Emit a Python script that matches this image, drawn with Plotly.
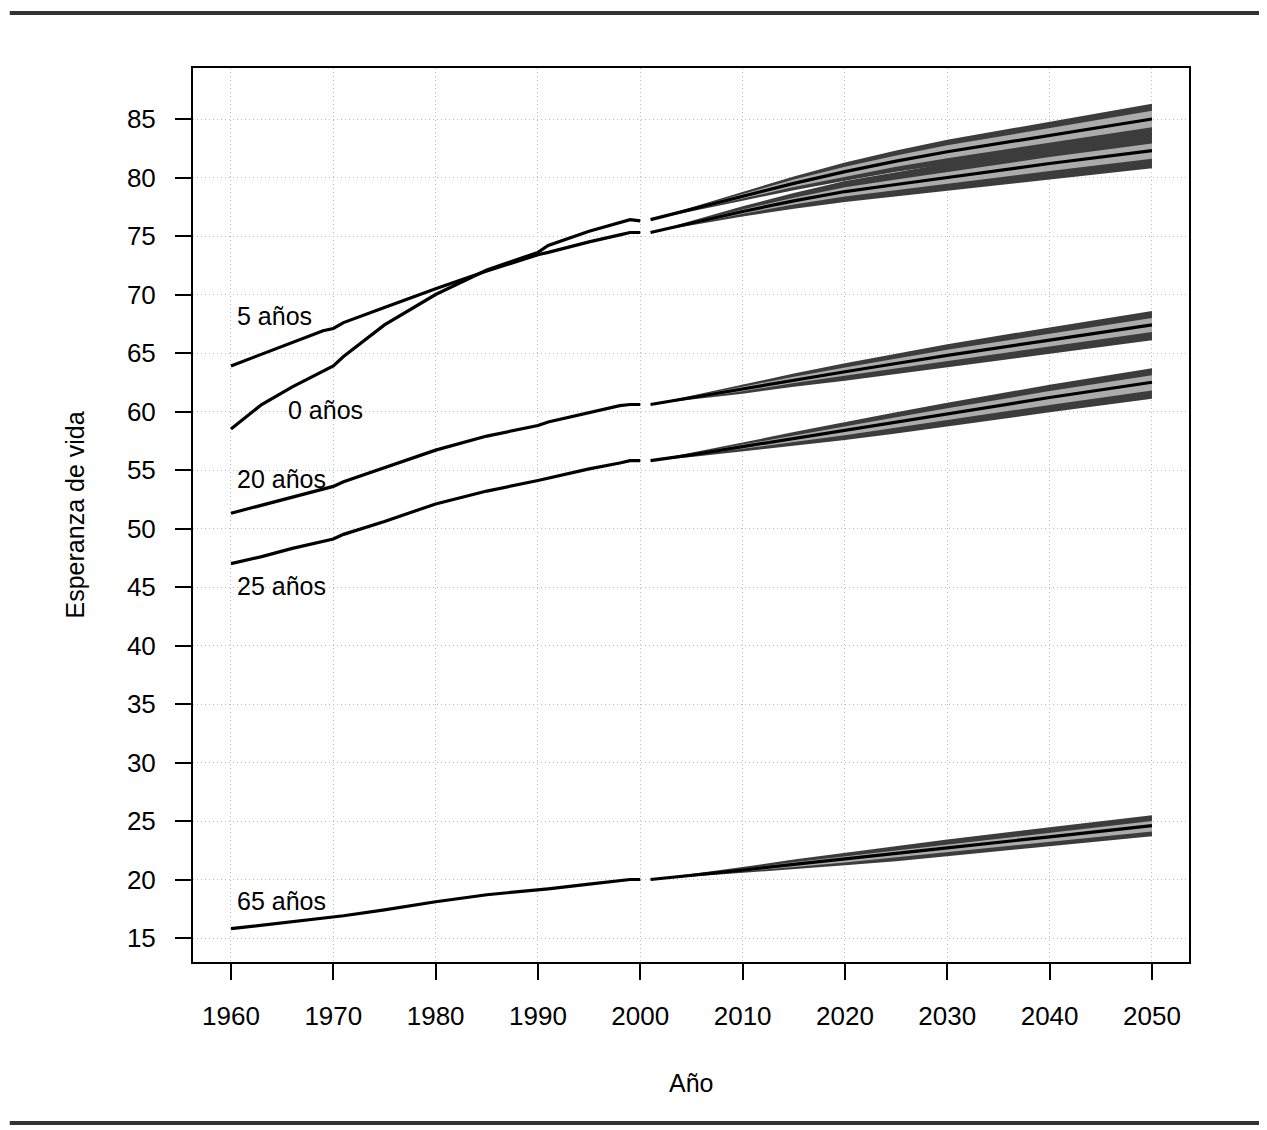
import plotly.graph_objects as go

# ---------------- data ----------------
hist_years = [1960, 1963, 1966, 1969, 1970, 1971, 1975, 1980, 1985, 1990, 1991, 1995, 1998, 1999, 2000]
hist_e0  = [58.5, 60.6, 62.1, 63.5, 63.9, 64.7, 67.4, 70.0, 72.1, 73.6, 74.2, 75.4, 76.2, 76.4, 76.3]
hist_e5  = [63.9, 64.9, 65.9, 66.9, 67.1, 67.6, 68.9, 70.5, 72.0, 73.4, 73.6, 74.5, 75.1, 75.3, 75.3]
hist_e20 = [51.3, 52.0, 52.7, 53.4, 53.6, 54.0, 55.2, 56.7, 57.9, 58.8, 59.1, 59.9, 60.5, 60.6, 60.6]
hist_e25 = [47.0, 47.6, 48.3, 48.9, 49.1, 49.5, 50.6, 52.1, 53.2, 54.1, 54.3, 55.1, 55.6, 55.8, 55.8]
hist_e65 = [15.8, 16.1, 16.4, 16.7, 16.8, 16.9, 17.4, 18.1, 18.7, 19.1, 19.2, 19.6, 19.9, 20.0, 20.0]

proj_years = [2001, 2005, 2010, 2015, 2020, 2025, 2030, 2040, 2050]

e0_med  = [76.4, 77.3, 78.4, 79.5, 80.5, 81.4, 82.2, 83.6, 85.0]
e0_hi80 = [76.4, 77.39, 78.6, 79.82, 80.92, 81.89, 82.75, 84.24, 85.7]
e0_lo80 = [76.4, 77.21, 78.2, 79.19, 80.08, 80.91, 81.65, 82.96, 84.3]
e0_hi95 = [76.4, 77.47, 78.78, 80.09, 81.28, 82.31, 83.23, 84.78, 86.3]
e0_lo95 = [76.4, 77.13, 78.02, 78.92, 79.72, 80.49, 81.17, 82.42, 83.7]

e5_med  = [75.3, 76.1, 77.1, 78.0, 78.8, 79.4, 80.0, 81.2, 82.3]
e5_hi80 = [75.3, 76.18, 77.27, 78.27, 79.16, 79.82, 80.47, 81.75, 82.9]
e5_lo80 = [75.3, 76.01, 76.9, 77.69, 78.38, 78.91, 79.45, 80.56, 81.6]
e5_hi95 = [75.3, 76.3, 77.54, 78.68, 79.7, 80.45, 81.19, 82.57, 83.8]
e5_lo95 = [75.3, 75.91, 76.67, 77.33, 77.9, 78.35, 78.82, 79.84, 80.8]

e20_med  = [60.6, 61.2, 61.9, 62.7, 63.4, 64.1, 64.8, 66.1, 67.4]
e20_hi80 = [60.6, 61.28, 62.07, 62.97, 63.76, 64.52, 65.27, 66.65, 68.0]
e20_lo80 = [60.6, 61.12, 61.73, 62.43, 63.04, 63.68, 64.33, 65.55, 66.8]
e20_hi95 = [60.6, 61.36, 62.25, 63.24, 64.12, 64.94, 65.75, 67.19, 68.6]
e20_lo95 = [60.6, 61.03, 61.52, 62.12, 62.62, 63.19, 63.77, 64.92, 66.1]

e25_med  = [55.8, 56.3, 57.0, 57.7, 58.4, 59.1, 59.8, 61.2, 62.5]
e25_hi80 = [55.8, 56.38, 57.17, 57.97, 58.76, 59.52, 60.27, 61.75, 63.1]
e25_lo80 = [55.8, 56.21, 56.8, 57.39, 57.98, 58.61, 59.25, 60.56, 61.8]
e25_hi95 = [55.8, 56.46, 57.35, 58.24, 59.12, 59.94, 60.75, 62.29, 63.7]
e25_lo95 = [55.8, 56.12, 56.59, 57.07, 57.56, 58.12, 58.69, 59.93, 61.1]

e65_med  = [20.0, 20.35, 20.8, 21.3, 21.75, 22.2, 22.7, 23.65, 24.6]
e65_hi80 = [20.0, 20.4, 20.92, 21.48, 21.99, 22.48, 23.02, 24.01, 25.0]
e65_lo80 = [20.0, 20.29, 20.66, 21.08, 21.45, 21.85, 22.31, 23.2, 24.1]
e65_hi95 = [20.0, 20.47, 21.06, 21.71, 22.29, 22.83, 23.41, 24.47, 25.5]
e65_lo95 = [20.0, 20.23, 20.54, 20.9, 21.21, 21.57, 21.99, 22.83, 23.7]

labels = ["5 años", "0 años", "20 años", "25 años", "65 años"]
label_x = [1960.4, 1965.4, 1960.4, 1960.4, 1960.4]
label_y = [68.2, 60.1, 54.2, 45.1, 18.2]

x_ticks = [1960, 1970, 1980, 1990, 2000, 2010, 2020, 2030, 2040, 2050]
y_ticks = [15, 20, 25, 30, 35, 40, 45, 50, 55, 60, 65, 70, 75, 80, 85]

# ---------------- figure ----------------
DARK = "#3c3c3c"
LIGHT = "#ababab"
FONT = "Liberation Sans, Arial, Helvetica, sans-serif"

fig = go.Figure()

def band(lo, hi, color):
    fig.add_trace(go.Scatter(
        x=proj_years + proj_years[::-1],
        y=hi + lo[::-1],
        fill="toself", fillcolor=color, mode="lines",
        line=dict(width=0, color=color), hoverinfo="skip", showlegend=False))

fans = [
    (e65_lo95, e65_lo80, e65_hi80, e65_hi95),
    (e25_lo95, e25_lo80, e25_hi80, e25_hi95),
    (e20_lo95, e20_lo80, e20_hi80, e20_hi95),
    (e5_lo95, e5_lo80, e5_hi80, e5_hi95),
    (e0_lo95, e0_lo80, e0_hi80, e0_hi95),
]
for lo95, lo80, hi80, hi95 in fans:
    band(lo95, hi95, DARK)
    band(lo80, hi80, LIGHT)

for med in [e65_med, e25_med, e20_med, e5_med, e0_med]:
    fig.add_trace(go.Scatter(x=proj_years, y=med, mode="lines",
                             line=dict(color="black", width=3.2), showlegend=False))

for h in [hist_e0, hist_e5, hist_e20, hist_e25, hist_e65]:
    fig.add_trace(go.Scatter(x=hist_years, y=h, mode="lines",
                             line=dict(color="black", width=3.2), showlegend=False))

for t, lx, ly in zip(labels, label_x, label_y):
    fig.add_annotation(x=lx, y=ly, text=t, showarrow=False, xanchor="left",
                       yanchor="middle", font=dict(size=25, color="black", family=FONT))

# axis titles
fig.add_annotation(x=0.5, xref="paper", y=-0.135, yref="paper", text="Año",
                   showarrow=False, xanchor="center", yanchor="middle",
                   font=dict(size=25, color="black", family=FONT))
fig.add_annotation(x=-0.118, xref="paper", y=0.5, yref="paper", text="Esperanza de vida",
                   showarrow=False, textangle=-90, xanchor="center", yanchor="middle",
                   font=dict(size=25, color="black", family=FONT))

# decorative rules above and below
fig.add_shape(type="line", xref="paper", yref="paper", x0=-0.184, x1=1.0715,
              y0=1.0615, y1=1.0615, line=dict(color="#333333", width=4))
fig.add_shape(type="line", xref="paper", yref="paper", x0=-0.184, x1=1.0715,
              y0=-0.1801, y1=-0.1801, line=dict(color="#333333", width=4))

axis_common = dict(
    showline=True, mirror=True, linecolor="black", linewidth=2,
    ticks="outside", ticklen=16, tickwidth=2, tickcolor="black",
    showgrid=True, gridcolor="#bdbdbd", gridwidth=1, griddash="1px,3px",
    zeroline=False, tickfont=dict(size=26, color="black", family=FONT),
)

fig.update_xaxes(range=[1956.29, 2053.62], tickvals=x_ticks, ticklabelstandoff=14, **axis_common)
fig.update_yaxes(range=[12.95, 89.36], tickvals=y_ticks, ticklabelstandoff=14, **axis_common)

fig.update_layout(
    width=1259, height=1122,
    margin=dict(l=185, r=78, t=60, b=168),
    paper_bgcolor="white", plot_bgcolor="white",
    showlegend=False,
    font=dict(family=FONT, color="black"),
)

fig.write_html("out.html")
